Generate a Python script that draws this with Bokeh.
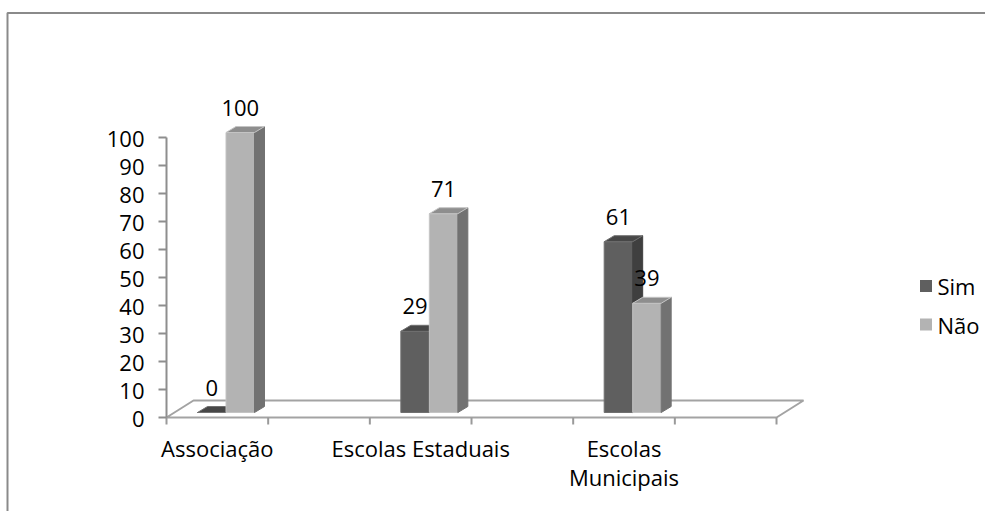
from bokeh.plotting import figure
from bokeh.models import Range1d
from bokeh.core.properties import value
from bokeh.embed import file_html
from bokeh.resources import INLINE

# ---------------- data ----------------
categories = ["Associação", "Escolas Estaduais", "Escolas Municipais"]
category_labels = ["Associação", "Escolas Estaduais", "Escolas\nMunicipais"]
series_names = ["Sim", "Não"]
sim_values = [0, 29, 61]
nao_values = [100, 71, 39]
y_ticks = [0, 10, 20, 30, 40, 50, 60, 70, 80, 90, 100]
n_slots = 6  # categories sit in slots 0, 2, 4 (empty slots between)

# ---------------- geometry / style ----------------
W, H = 985, 511
X0, Y0 = 166.0, 417.0       # canvas px of (slot 0, value 0)
SX, SY = 101.67, 2.8        # px per slot, px per unit
FONT = value("Open Sans")
FS = "22px"
TXT = "#000000"

def dx(px):
    return px / SX

def dy(px):
    return px / SY

def cx(px):
    return (px - X0) / SX

def cy(px):
    return (Y0 - px) / SY

p = figure(width=W, height=H, output_backend="svg", toolbar_location=None, tools="",
           x_range=Range1d(cx(0), cx(W)), y_range=Range1d(cy(H), cy(0)),
           x_axis_type=None, y_axis_type=None, min_border=0)
p.outline_line_color = None
p.background_fill_color = "white"
p.border_fill_color = "white"
p.xgrid.visible = False
p.ygrid.visible = False

# chart-area border (left + top)
p.line(x=[cx(7), cx(7), cx(W + 5)], y=[cy(H + 5), cy(12.5), cy(12.5)],
       line_color="#8a8a8a", line_width=2)

# floor
FDX, FDY = 27, 17
p.patch(x=[0, n_slots, n_slots + dx(FDX), dx(FDX)], y=[0, 0, dy(FDY), dy(FDY)],
        fill_color="white", line_color="#a3a3a3", line_width=2)

# x-axis ticks at slot boundaries
slots = list(range(n_slots + 1))
p.segment(x0=slots, y0=[0] * len(slots), x1=slots, y1=[-dy(7)] * len(slots),
          line_color="#9a9a9a", line_width=2)

# y axis
p.segment(x0=[0], y0=[0], x1=[0], y1=[y_ticks[-1]], line_color="#8e8e8e", line_width=2)
p.segment(x0=[-dx(8)] * len(y_ticks), y0=y_ticks, x1=[0] * len(y_ticks), y1=y_ticks,
          line_color="#8e8e8e", line_width=2)
p.text(x=[0] * len(y_ticks), y=y_ticks, text=[str(t) for t in y_ticks],
       x_offset=-22, y_offset=1, text_align="right", text_baseline="middle",
       text_font=FONT, text_font_size=FS, text_color=TXT)

# category labels
cat_x = [2 * i + 0.5 for i in range(len(categories))]
p.text(x=cat_x, y=[0] * len(cat_x), text=category_labels, x_offset=0, y_offset=15,
       text_align="center", text_baseline="top", text_line_height=0.97,
       text_font=FONT, text_font_size=FS, text_color=TXT)

# 3D bars
BAR_OFF, BW = 31.0, 28.5      # px from slot start, bar width px
SHIFT_Y = 5.0                 # bar base raised into floor depth
BDX, BDY = 10.0, 6.0          # bar depth
styles = [
    dict(front="#5f5f5f", side="#3f3f3f", top="#474747", line="#707070"),
    dict(front="#b3b3b3", side="#727272", top="#8e8e8e", line="#c4c4c4"),
]
label_x, label_y, label_t = [], [], []
for k, vals in enumerate([sim_values, nao_values]):
    fx, fy, sxs, sys_, tx, ty = [], [], [], [], [], []
    for i, v in enumerate(vals):
        xl = 2 * i + dx(BAR_OFF + k * BW)
        xr = xl + dx(BW)
        b = dy(SHIFT_Y)
        t = v + dy(SHIFT_Y)
        fx.append([xl, xr, xr, xl]); fy.append([b, b, t, t])
        sxs.append([xr, xr + dx(BDX), xr + dx(BDX), xr]); sys_.append([b, b + dy(BDY), t + dy(BDY), t])
        tx.append([xl, xr, xr + dx(BDX), xl + dx(BDX)]); ty.append([t, t, t + dy(BDY), t + dy(BDY)])
        label_x.append((xl + xr) / 2); label_y.append(t); label_t.append(str(v))
    st = styles[k]
    p.patches(xs=fx, ys=fy, fill_color=st["front"], line_color=st["line"], line_width=1)
    p.patches(xs=sxs, ys=sys_, fill_color=st["side"], line_color=st["side"], line_width=1)
    p.patches(xs=tx, ys=ty, fill_color=st["top"], line_color=st["line"], line_width=1)

# data labels
p.text(x=label_x, y=label_y, text=label_t, y_offset=-25, text_align="center",
       text_baseline="middle", text_font=FONT, text_font_size=FS, text_color=TXT)

# legend (manual)
leg_y = [cy(285.5), cy(324)]
p.scatter(x=[cx(925.5)] * 2, y=leg_y, marker="square", size=12,
          fill_color=[styles[0]["front"], styles[1]["front"]], line_color=None)
p.text(x=[cx(937)] * 2, y=leg_y, text=series_names, text_align="left",
       text_baseline="middle", text_font=FONT, text_font_size=FS, text_color=TXT)

open("out.html", "w").write(file_html(p, INLINE))
